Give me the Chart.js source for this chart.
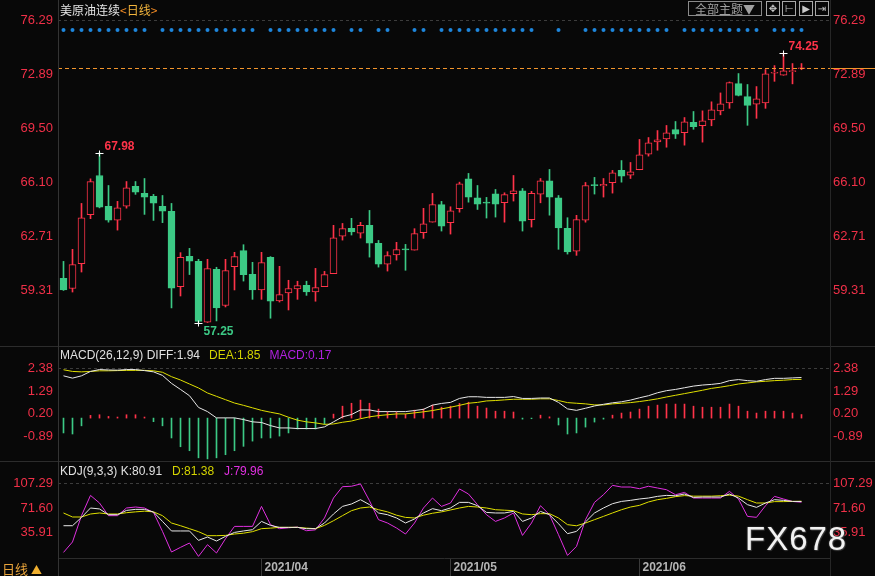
<!DOCTYPE html>
<html>
<head>
<meta charset="utf-8">
<script src="https://cdn.jsdelivr.net/npm/chart.js@4.4.1/dist/chart.umd.min.js"></script>
<style>
html,body{margin:0;padding:0;background:#080808;}
#page{position:relative;width:875px;height:576px;overflow:hidden;background:#080808;font-family:'Liberation Sans',Arial,sans-serif;}
.pane{position:absolute;left:0;width:875px;}
.hl{position:absolute;left:0;width:875px;height:1px;background:#2c2c2c;z-index:2;}
.vl{position:absolute;top:0;width:1px;height:576px;background:#333;z-index:2;}
.title{position:absolute;left:60px;font-size:12px;line-height:14px;white-space:pre;z-index:3;}
.btn{position:absolute;top:1px;height:13px;border:1px solid #8a8a8a;color:#a0a0a0;font:12px 'Noto Sans CJK SC';line-height:13px;text-align:center;z-index:3;}
.ico{position:absolute;top:1px;width:12px;height:13px;border:1px solid #a8a8a8;color:#c8c8c8;font:10px 'DejaVu Sans';line-height:13px;text-align:center;z-index:3;}
#wm{position:absolute;left:745px;top:522px;font:33px 'Liberation Sans';line-height:33px;letter-spacing:1px;color:#f2f2f2;text-shadow:0 0 2px #555,1px 1px 1px #333;z-index:4;}
</style>
</head>
<body>
<div id="page">
  <div class="pane" style="top:0;height:346px"><canvas id="main"></canvas></div>
  <div class="pane" style="top:346px;height:115px"><canvas id="macd"></canvas></div>
  <div class="pane" style="top:461px;height:115px"><canvas id="kdj"></canvas></div>
  <div class="hl" style="top:346px"></div>
  <div class="hl" style="top:461px"></div>
  <div class="vl" style="left:58px"></div>
  <div class="vl" style="left:830px;background:#262626"></div>

  <div class="title" style="top:2px;font-family:'Noto Sans CJK SC';line-height:16px"><span style="color:#e4e4e4">美原油连续</span><span style="color:#f08a24">&lt;</span><span style="color:#f2b43c">日线</span><span style="color:#f08a24">&gt;</span></div>
  <div class="title" id="macdTitle" style="top:348px"></div>
  <div class="title" id="kdjTitle" style="top:464px"></div>

  <div class="btn" style="left:688px;width:72px">全部主题▼</div>
  <div class="ico" style="left:766px">✥</div>
  <div class="ico" style="left:782px">⊢</div>
  <div class="ico" style="left:799px">▶</div>
  <div class="ico" style="left:815px">⇥</div>

  <div style="position:absolute;left:2px;top:561px;font:13px 'Noto Sans CJK SC';line-height:15px;color:#e8a33a;z-index:3">日线 <span style="color:#f0b030;font-size:11px">▲</span></div>
  <div id="wm">FX678</div>
</div>
<script>
// price candles (daily)
const opens = [60.06,59.42,60.99,64.07,66.54,64.59,63.73,64.61,65.85,65.41,
  65.22,64.59,64.28,59.54,61.45,61.13,57.30,60.63,58.35,60.80,
  61.81,60.32,59.33,61.38,58.64,59.14,59.39,59.62,59.20,59.54,
  60.36,62.72,63.21,62.91,63.40,62.26,60.96,61.53,61.87,61.84,
  62.94,63.60,64.70,63.57,64.45,66.33,65.14,64.85,65.39,64.82,
  65.39,65.58,63.76,65.37,66.21,65.14,63.21,61.78,63.73,65.93,
  65.88,66.08,66.86,66.56,66.90,67.88,68.66,68.85,69.43,69.23,
  69.88,69.67,70.04,70.61,71.11,72.33,71.51,71.03,71.11,72.98,
  72.85,73.08,73.26];
const highs = [61.13,61.89,64.78,66.33,67.98,65.91,64.91,66.16,66.16,66.35,
  65.35,65.28,64.78,61.68,61.95,61.26,61.26,60.76,61.26,61.70,
  62.18,61.07,61.70,61.43,60.82,59.94,59.88,59.88,60.69,60.50,
  63.40,63.52,63.84,63.59,64.34,62.45,61.74,62.33,62.20,63.19,
  64.47,65.41,64.91,64.57,66.12,66.67,65.91,65.16,65.66,65.45,
  66.54,65.72,65.54,66.35,66.92,65.28,63.88,64.03,66.10,66.42,
  66.35,66.86,67.48,67.36,68.81,68.93,69.37,69.69,69.94,70.19,
  70.57,70.61,71.18,71.74,72.43,72.96,72.27,72.14,73.21,73.46,
  74.25,73.59,73.59];
const lows = [59.30,59.20,60.46,63.82,64.50,63.60,63.10,64.48,65.35,64.09,
  63.71,63.57,58.20,58.95,60.30,57.25,57.28,57.38,58.26,59.33,
  59.89,58.74,58.74,57.55,58.57,58.07,58.74,58.99,58.62,59.54,
  60.36,62.47,62.79,62.60,61.40,60.77,60.52,61.21,60.57,61.84,
  62.58,63.60,63.04,62.85,64.23,64.86,64.40,63.86,63.92,63.60,
  64.93,63.04,63.29,64.82,64.04,61.89,61.59,61.51,63.60,65.37,
  65.18,65.43,66.12,66.35,66.90,67.76,68.13,68.32,68.87,68.45,
  69.45,68.64,69.67,70.36,70.77,71.55,69.70,70.14,70.77,72.47,
  72.85,72.31,73.20];
const closes = [59.33,60.93,63.88,66.15,64.55,63.73,64.51,65.77,65.49,65.18,
  64.80,64.30,59.45,61.38,61.15,57.35,60.67,58.20,60.55,61.43,
  60.30,59.33,61.05,58.62,59.04,59.42,59.60,59.20,59.48,60.30,
  62.62,63.19,62.98,63.40,62.28,60.96,61.49,61.87,61.85,62.88,
  63.50,64.70,63.35,64.32,66.02,65.18,64.74,64.80,64.74,65.33,
  65.58,63.67,65.41,66.21,65.18,63.23,61.72,63.76,65.91,65.90,
  65.99,66.71,66.50,66.77,67.84,68.60,68.79,69.23,69.14,69.92,
  69.62,69.98,70.67,71.05,72.39,71.59,70.96,71.37,72.94,73.02,
  73.13,73.12,73.30];
const dotDays = [0,1,2,3,4,5,6,7,8,9,11,12,13,14,15,16,17,18,19,20,21,23,24,25,26,27,28,29,30,
  32,33,35,36,39,40,42,43,44,45,46,47,48,49,50,51,52,55,58,59,60,61,62,63,64,65,66,67,
  69,70,71,72,73,74,75,76,77,79,80,81,82];
const dotLevel = 75.70;
const peakDays = [4, 80];
const troughDays = [15];
const priceTicks = [76.29, 72.89, 69.50, 66.10, 62.71, 59.31];

// MACD(26,12,9)
const diffs = [2.02,1.91,2.02,2.23,2.32,2.30,2.29,2.32,2.32,2.27,
  2.21,2.04,1.66,1.37,1.07,0.51,0.31,0.01,0.01,0.01,
  -0.07,-0.18,-0.21,-0.36,-0.47,-0.47,-0.50,-0.50,-0.50,-0.42,
  -0.18,0.06,0.17,0.39,0.39,0.31,0.31,0.31,0.31,0.36,
  0.42,0.62,0.70,0.75,0.94,1.02,1.02,0.99,0.99,0.99,
  1.03,0.94,0.94,0.96,0.96,0.75,0.44,0.37,0.47,0.58,
  0.66,0.73,0.78,0.86,0.97,1.07,1.21,1.31,1.37,1.45,
  1.53,1.58,1.61,1.66,1.79,1.84,1.79,1.76,1.84,1.90,
  1.90,1.92,1.94];
const deas = [2.31,2.23,2.21,2.23,2.26,2.26,2.27,2.28,2.28,2.28,
  2.26,2.19,1.98,1.82,1.63,1.44,1.20,1.04,0.88,0.72,
  0.61,0.49,0.37,0.28,0.20,0.04,-0.10,-0.18,-0.23,-0.30,
  -0.28,-0.20,-0.14,-0.03,0.06,0.12,0.16,0.20,0.20,0.25,
  0.30,0.36,0.44,0.52,0.61,0.71,0.75,0.82,0.84,0.87,
  0.90,0.90,0.90,0.92,0.92,0.84,0.74,0.71,0.68,0.63,
  0.63,0.68,0.71,0.74,0.79,0.85,0.92,1.01,1.09,1.17,
  1.25,1.33,1.42,1.48,1.55,1.63,1.68,1.73,1.76,1.79,
  1.81,1.84,1.85];
const macdBars = [-0.71,-0.76,-0.37,0.13,0.16,0.08,0.05,0.16,0.16,0.05,
  -0.17,-0.37,-0.95,-1.37,-1.56,-1.90,-1.95,-1.90,-1.75,-1.56,
  -1.35,-1.10,-0.95,-0.95,-0.86,-0.71,-0.52,-0.52,-0.52,-0.29,
  0.19,0.57,0.71,0.86,0.71,0.43,0.29,0.29,0.19,0.38,
  0.43,0.62,0.52,0.57,0.70,0.76,0.57,0.48,0.33,0.33,
  0.29,-0.05,-0.03,0.14,0.06,-0.33,-0.76,-0.71,-0.43,-0.19,
  -0.05,0.14,0.24,0.29,0.43,0.57,0.62,0.67,0.67,0.67,
  0.57,0.52,0.52,0.52,0.67,0.57,0.33,0.24,0.33,0.33,
  0.33,0.24,0.17];
const macdTicks = [2.38, 1.29, 0.20, -0.89];

// KDJ(9,3,3)
const kLine = [46.0,46.0,58.0,71.6,70.2,61.9,61.9,68.1,69.6,69.6,
  65.8,52.2,38.4,38.4,38.4,24.8,29.7,23.9,30.6,36.3,
  38.4,40.2,52.2,46.5,43.6,43.6,43.6,41.7,41.7,49.9,
  62.9,73.9,77.4,83.6,76.4,64.4,61.9,57.2,49.9,55.7,
  64.4,70.6,67.7,71.6,79.7,79.7,74.9,65.2,64.4,64.4,
  66.7,52.2,57.2,66.6,61.9,48.9,34.5,37.8,51.4,64.4,
  71.6,77.8,81.1,82.6,84.6,86.0,88.4,89.8,89.3,91.8,
  86.9,87.4,87.4,87.4,91.8,86.0,76.4,72.5,78.8,83.6,
  82.6,81.1,80.91];
const dLine = [64.4,58.6,58.6,62.9,64.4,62.9,62.9,64.8,66.0,67.0,
  66.0,60.5,49.9,46.0,41.7,37.4,31.6,31.6,32.0,34.0,
  35.2,37.4,41.7,42.5,43.6,43.6,43.6,42.5,41.7,46.5,
  53.2,60.5,67.7,71.6,73.0,69.1,66.0,61.2,58.0,57.2,
  61.2,64.0,66.0,68.7,71.6,73.9,73.0,71.6,69.1,68.4,
  67.7,63.0,61.9,63.4,63.4,57.2,47.5,45.9,49.9,54.7,
  59.5,64.4,69.1,73.0,75.4,80.3,83.6,85.5,88.0,89.5,
  88.7,88.7,88.7,89.3,90.2,88.7,83.6,78.8,78.8,80.8,
  80.8,81.1,81.38];
const jLine = [7.4,22.5,60.5,89.8,78.8,60.5,60.5,71.6,73.0,71.6,
  65.2,37.8,8.0,14.7,21.0,1.7,18.6,6.6,27.2,45.0,
  45.0,45.0,73.9,47.5,41.7,43.0,44.0,38.8,40.0,57.2,
  86.0,102.4,103.0,106.3,82.1,54.7,49.9,42.7,34.0,49.9,
  71.6,86.0,73.9,78.8,99.1,91.8,76.4,61.9,52.2,57.2,
  64.4,32.0,49.9,74.9,61.9,33.0,3.1,16.1,54.7,79.7,
  90.8,104.3,101.9,101.9,99.5,103.0,100.5,98.0,90.8,94.1,
  86.0,86.0,86.0,86.0,95.6,84.6,59.5,58.1,74.9,88.4,
  84.6,81.0,79.96];
const kdjTicks = [107.29, 71.60, 35.91];

const monthStarts = [22, 43, 64];
const monthLabels = ['2021/04', '2021/05', '2021/06'];

const RED = '#ff3349', GREEN = '#3cc985', BG = '#080808', AXIS_RED = '#f03048';
const WHITE = '#e8e8e8', YELLOW = '#e0e000', MAGENTA = '#e030e0';

Chart.defaults.animation = false;
Chart.defaults.font.family = "'Liberation Sans', Arial, sans-serif";
Chart.defaults.plugins.legend.display = false;
Chart.defaults.plugins.tooltip.enabled = false;
Chart.defaults.layout.autoPadding = false;

const last = closes.length - 1;
document.getElementById('macdTitle').innerHTML =
  '<span style="color:#e0e0e0">MACD(26,12,9) DIFF:' + diffs[last].toFixed(2) + '</span>' +
  '<span style="color:#d4d400;margin-left:9px">DEA:' + deas[last].toFixed(2) + '</span>' +
  '<span style="color:#b020e0;margin-left:9px">MACD:' + macdBars[last].toFixed(2) + '</span>';
document.getElementById('kdjTitle').innerHTML =
  '<span style="color:#e0e0e0">KDJ(9,3,3) K:' + kLine[last].toFixed(2) + '</span>' +
  '<span style="color:#d4d400;margin-left:10px">D:' + dLine[last].toFixed(2) + '</span>' +
  '<span style="color:#e030e0;margin-left:10px">J:' + jLine[last].toFixed(2) + '</span>';

const isUp = i => closes[i] >= opens[i];
const xy = arr => arr.map((v, i) => ({x: i, y: v}));

function xAxis(show) {
  const ax = {type: 'linear', min: -0.611, max: 85.167, offset: false, display: show,
    grid: {display: false, offset: false}, border: {display: false}};
  if (show) {
    Object.assign(ax, {
      afterFit: s => { s.height = 18; s.paddingLeft = 0; s.paddingRight = 0; },
      afterBuildTicks: s => { s.ticks = monthStarts.map(v => ({value: v})); },
      grid: {display: true, offset: false, drawOnChartArea: false, drawTicks: true, tickLength: 18, color: '#3a3a3a'},
      border: {display: true, color: '#2c2c2c'},
      ticks: {autoSkip: false, maxRotation: 0, align: 'start', labelOffset: 3, padding: -16,
        color: '#b4b4b4', font: {size: 12, weight: 'bold'},
        callback: v => monthLabels[monthStarts.indexOf(v)]}
    });
  }
  return ax;
}

function yAxes(ticks, min, max) {
  const one = (pos, w, pad) => ({
    position: pos, min, max,
    afterFit: s => { s.width = w; s.paddingTop = 0; s.paddingBottom = 0; },
    afterBuildTicks: s => { s.ticks = ticks.map(v => ({value: v})); },
    ticks: {color: AXIS_RED, padding: pad, font: {size: 13},
      callback: v => v.toFixed(2)},
    grid: {drawTicks: false, drawOnChartArea: pos === 'left',
      color: c => (c.tick && c.tick.value === ticks[0]) ? '#3c3c3c' : 'rgba(0,0,0,0)'},
    border: {display: false, dash: [3, 3]}
  });
  return {y: one('left', 58, 5), y2: one('right', 45, 3)};
}

const markPlugin = {
  id: 'marks',
  afterDatasetsDraw(chart) {
    const {ctx, chartArea: a, scales: {x, y}} = chart;
    ctx.save();
    const ly = Math.round(y.getPixelForValue(closes[last])) + 0.5;
    ctx.strokeStyle = '#f2952c'; ctx.lineWidth = 1;
    ctx.setLineDash([4, 3]);
    ctx.beginPath(); ctx.moveTo(a.left, ly); ctx.lineTo(a.right, ly); ctx.stroke();
    ctx.setLineDash([]);
    ctx.beginPath(); ctx.moveTo(a.right, ly); ctx.lineTo(chart.width, ly); ctx.stroke();
    ctx.font = "bold 12px 'Liberation Sans'";
    ctx.textBaseline = 'middle';
    const mark = (i, v, color, dy) => {
      const px = x.getPixelForValue(i), py = Math.round(y.getPixelForValue(v)) + 0.5;
      ctx.strokeStyle = '#ffffff';
      ctx.beginPath();
      ctx.moveTo(px - 4, py); ctx.lineTo(px + 4, py);
      ctx.moveTo(px, py - 3); ctx.lineTo(px, py + 3);
      ctx.stroke();
      ctx.fillStyle = color;
      ctx.fillText(v.toFixed(2), px + 5, py + dy);
    };
    peakDays.forEach(i => mark(i, highs[i], RED, -7));
    troughDays.forEach(i => mark(i, lows[i], GREEN, 8));
    ctx.restore();
  }
};

// price pane
const mainScales = Object.assign({x: xAxis(false)}, yAxes(priceTicks, 55.99, 76.71));
new Chart(document.getElementById('main'), {
  type: 'bar',
  data: {datasets: [
    {label: 'body', order: 0, grouped: false,
      data: opens.map((o, i) => ({x: i, y: [o, closes[i]]})),
      backgroundColor: opens.map((o, i) => isUp(i) ? BG : GREEN),
      borderColor: opens.map((o, i) => isUp(i) ? RED : GREEN),
      borderWidth: 1, borderSkipped: false, barThickness: 7, maxBarThickness: 7, minBarLength: 1},
    {label: 'wick', order: 1, grouped: false,
      data: lows.map((l, i) => ({x: i, y: [l, highs[i]]})),
      backgroundColor: lows.map((l, i) => isUp(i) ? RED : GREEN),
      borderWidth: 0, barThickness: 1, maxBarThickness: 1, minBarLength: 1},
    {type: 'line', label: 'signal', order: 2, showLine: false,
      data: dotDays.map(i => ({x: i, y: dotLevel})),
      pointRadius: 2, pointStyle: 'circle', pointBackgroundColor: '#1e86dc', pointBorderWidth: 0}
  ]},
  options: {responsive: true, maintainAspectRatio: false,
    layout: {padding: {top: 14, bottom: 3, left: 0, right: 0}},
    scales: mainScales},
  plugins: [markPlugin]
});

// MACD pane
const macdScales = Object.assign({x: xAxis(false)}, yAxes(macdTicks, -2.003, 3.35));
new Chart(document.getElementById('macd'), {
  type: 'bar',
  data: {datasets: [
    {type: 'line', label: 'DIFF', order: 0, data: xy(diffs), borderColor: WHITE, borderWidth: 1, pointRadius: 0, tension: 0},
    {type: 'line', label: 'DEA', order: 1, data: xy(deas), borderColor: YELLOW, borderWidth: 1, pointRadius: 0, tension: 0},
    {label: 'MACD', order: 2, data: xy(macdBars),
      backgroundColor: macdBars.map(v => v >= 0 ? RED : GREEN),
      borderWidth: 0, barThickness: 1, maxBarThickness: 1}
  ]},
  options: {responsive: true, maintainAspectRatio: false,
    layout: {padding: {top: 2, bottom: 1, left: 0, right: 0}},
    scales: macdScales}
});

// KDJ pane
const kdjScales = Object.assign({x: xAxis(true)}, yAxes(kdjTicks, -0.66, 136.6));
new Chart(document.getElementById('kdj'), {
  type: 'line',
  data: {datasets: [
    {label: 'K', data: xy(kLine), borderColor: WHITE, borderWidth: 1, pointRadius: 0, tension: 0},
    {label: 'D', data: xy(dLine), borderColor: YELLOW, borderWidth: 1, pointRadius: 0, tension: 0},
    {label: 'J', data: xy(jLine), borderColor: MAGENTA, borderWidth: 1, pointRadius: 0, tension: 0}
  ]},
  options: {responsive: true, maintainAspectRatio: false,
    layout: {padding: {top: 2, bottom: 0, left: 0, right: 0}},
    scales: kdjScales}
});
</script>
</body>
</html>
